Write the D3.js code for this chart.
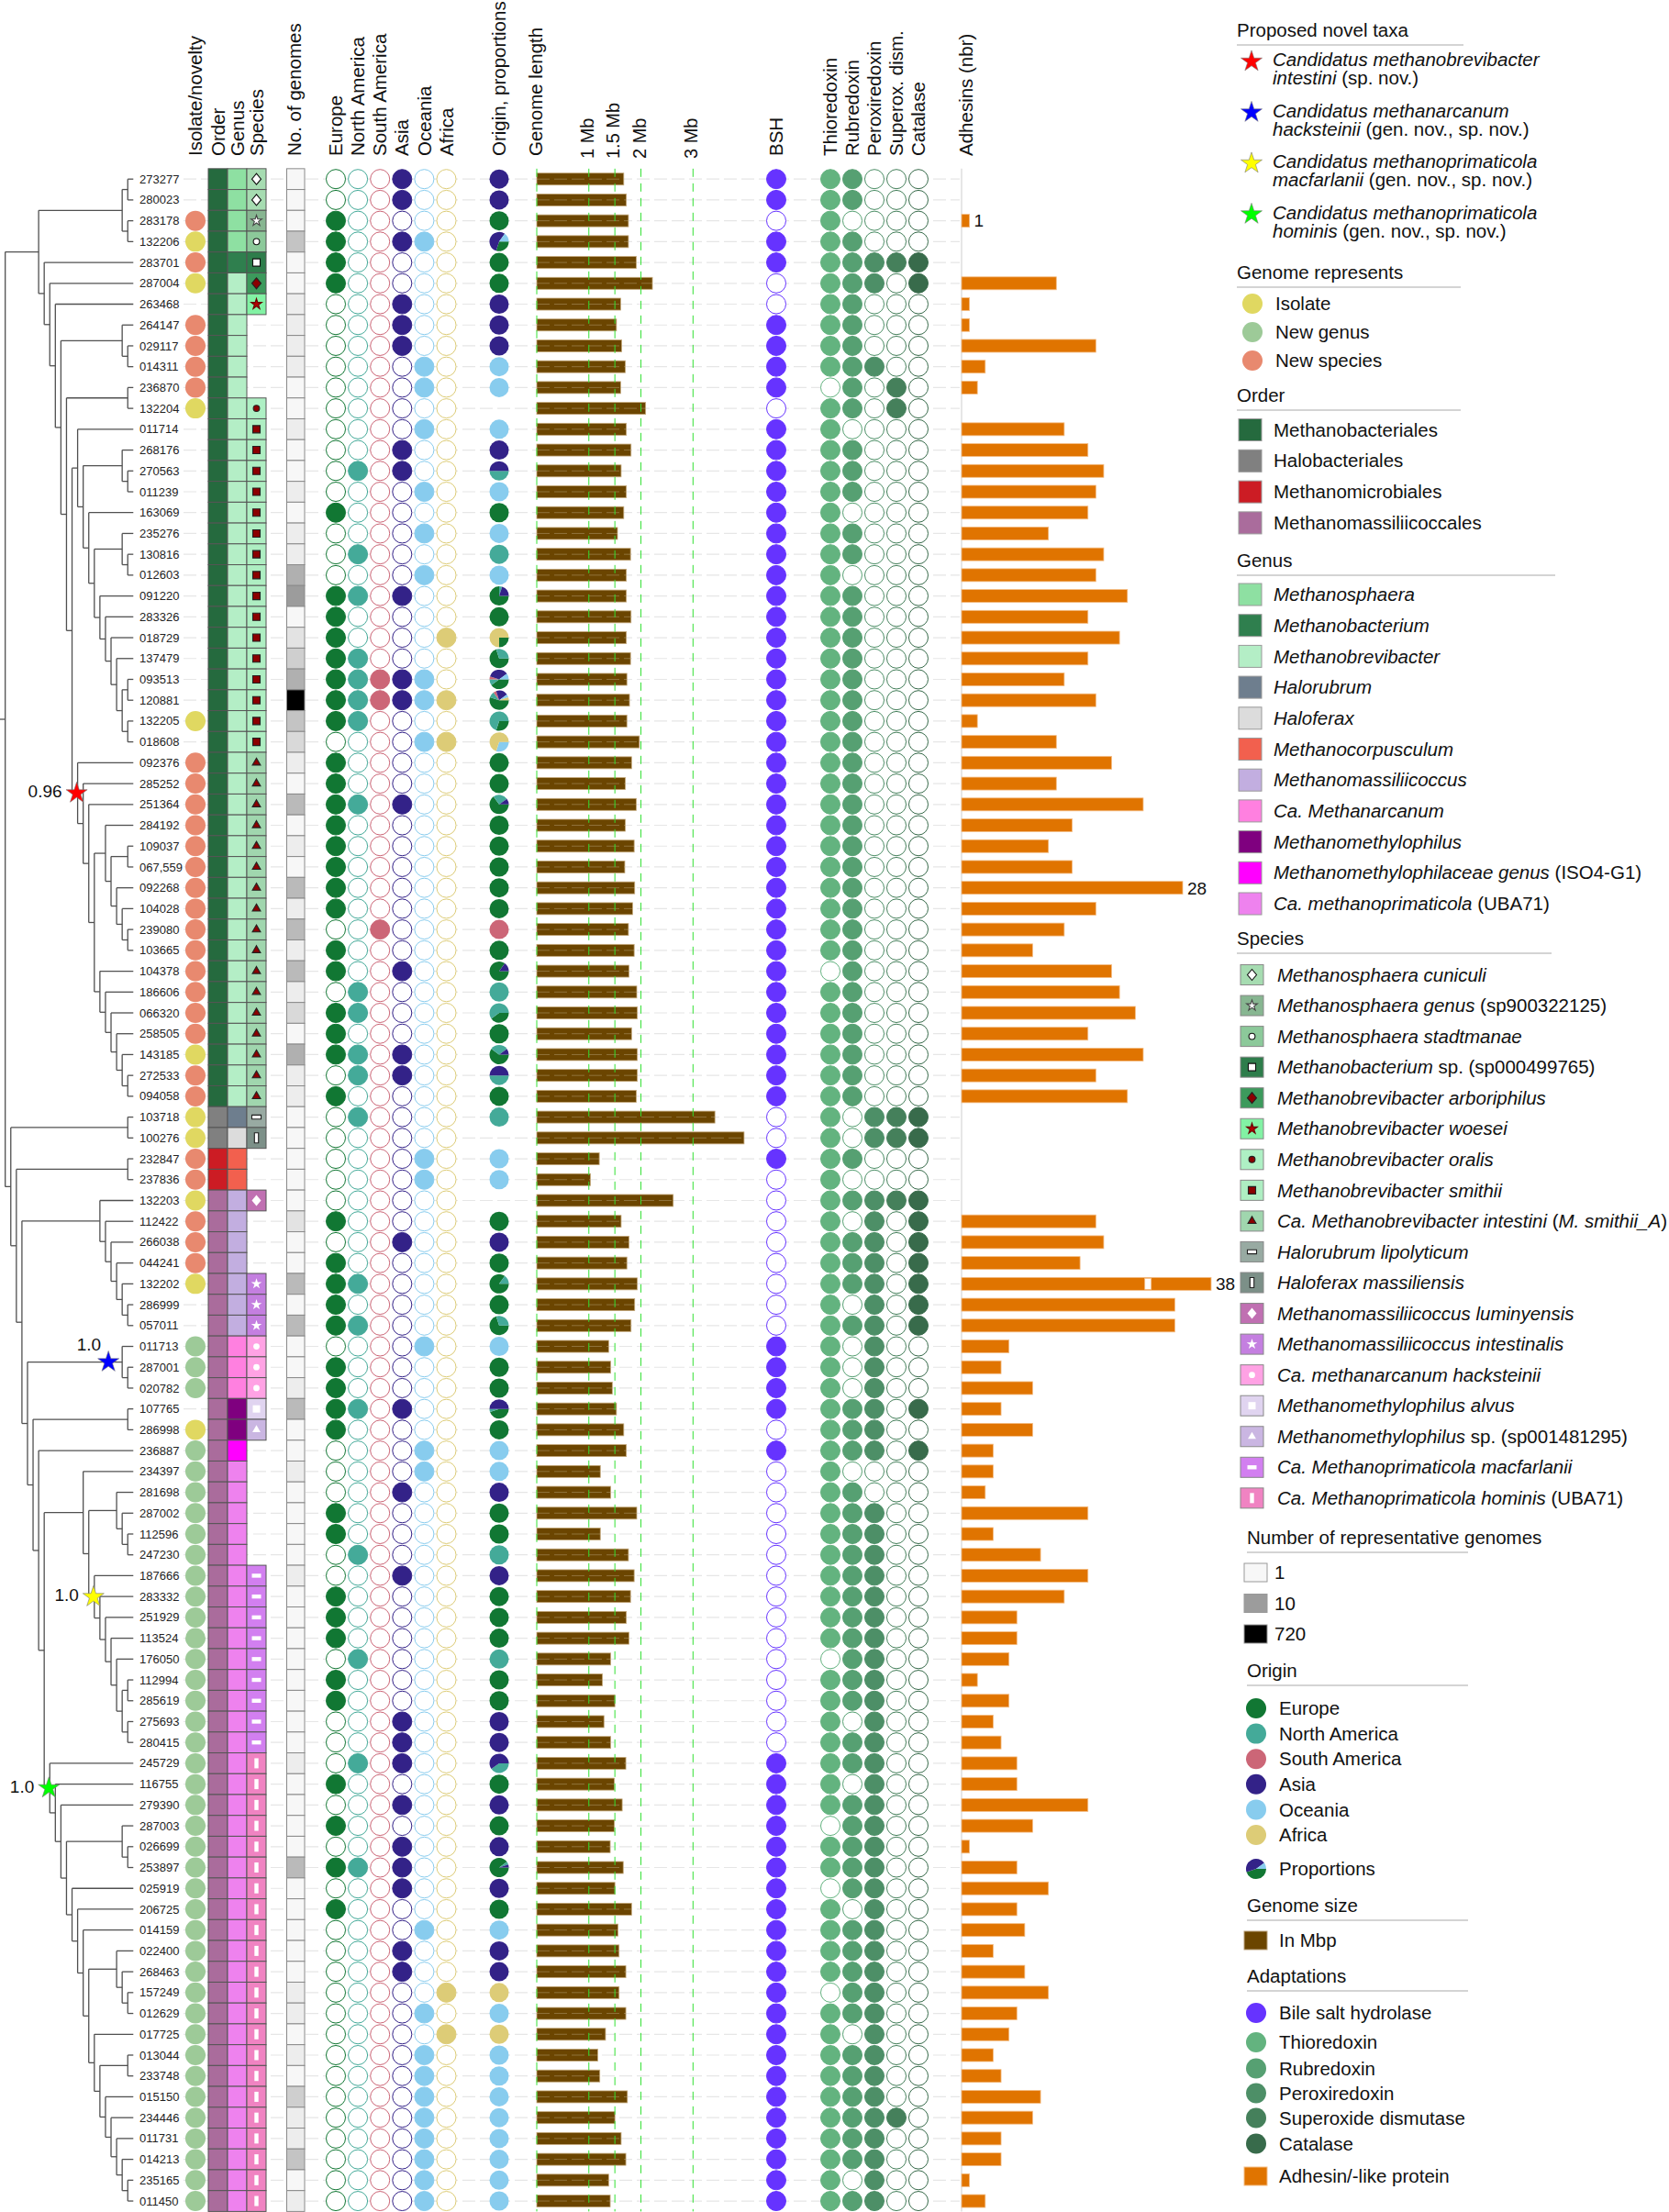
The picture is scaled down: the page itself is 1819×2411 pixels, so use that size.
<!DOCTYPE html>
<html>
<head>
<meta charset="utf-8">
<script src="https://cdn.jsdelivr.net/npm/d3@7/dist/d3.min.js"></script>
<style>
  body { margin: 0; background: #fff; }
  svg { display: block; font-family: "Liberation Sans", Arial, Helvetica, sans-serif; }
  text { white-space: pre; }
</style>
</head>
<body>
<div id="chart"></div>
<script>
// ---------------- data ----------------
const genomeIds = ["273277","280023","283178","132206","283701","287004","263468","264147","029117","014311",
  "236870","132204","011714","268176","270563","011239","163069","235276","130816","012603",
  "091220","283326","018729","137479","093513","120881","132205","018608","092376","285252",
  "251364","284192","109037","067,559","092268","104028","239080","103665","104378","186606",
  "066320","258505","143185","272533","094058","103718","100276","232847","237836","132203",
  "112422","266038","044241","132202","286999","057011","011713","287001","020782","107765",
  "286998","236887","234397","281698","287002","112596","247230","187666","283332","251929",
  "113524","176050","112994","285619","275693","280415","245729","116755","279390","287003",
  "026699","253897","025919","206725","014159","022400","268463","157249","012629","017725",
  "013044","233748","015150","234446","011731","014213","235165","011450"];

// tree topology, leaves are row indices
const cSmithii = [20,[21,[22,[23,[[24,25],[26,27]]]]]];
const cSmithiiB = [12,[[13,[14,15]],[16,[[17,[18,19]],cSmithii]]]];
const cIntestini = [28,[29,[30,[[31,[[32,33],[34,[35,[36,37]]]]],[38,[39,[40,[41,[42,[43,44]]]]]]]]]];
const n203 = [[7,[8,9]],[[10,11],[cSmithiiB,cIntestini]]];
const cladeA = [[[0,1],[2,3]],[4,[5,[6,n203]]]];
const h327 = [[90,91],[92,[93,[94,[95,[96,97]]]]]];
const h291 = [[85,[86,[87,88]]],[89,h327]];
const cHominis = [76,[77,[78,[[79,[80,81]],[82,[83,[84,h291]]]]]]];
const cMacfarlanii = [67,[68,[69,[70,[71,[[72,73],[74,75]]]]]]];
const n147 = [[62,[[63,[64,[65,66]]],cMacfarlanii]],cHominis];
const cMassilii = [49,[50,[51,[52,[53,[54,55]]]]]];
const n92 = [[56,[57,58]],[[59,60],[61,n147]]];
const cladeB = [[45,46],[[47,48],[cMassilii,n92]]];
const treeTopology = [cladeA, cladeB];

// novel taxa clades (first / last genome) and support values
const starFirst = ["092376","011713","187666","245729"];
const starLast = ["094058","020782","280415","011450"];
const starSupport = ["0.96","1.0","1.0","1.0"];

// 0 none, 1 isolate, 2 new genus, 3 new species
const novelty = [0,0,3,1,3,1,0,3,3,3, 3,1,0,0,0,0,0,0,0,0, 0,0,0,0,0,0,1,0,3,3, 3,3,3,3,3,3,3,3,3,3,
  3,3,1,3,3,1,1,3,3,1, 3,3,3,1,0,0,2,2,2,0, 1,2,2,2,2,2,2,2,2,2, 2,2,2,2,2,2,2,2,2,2,
  2,2,2,2,2,2,2,2,2,2, 2,2,2,2,2,2,2,2];
const noveltyNames = ["Isolate","New genus","New species"];

const orderNames = ["Methanobacteriales","Halobacteriales","Methanomicrobiales","Methanomassiliicoccales"];
const rowOrder = [0,0,0,0,0,0,0,0,0,0, 0,0,0,0,0,0,0,0,0,0, 0,0,0,0,0,0,0,0,0,0, 0,0,0,0,0,0,0,0,0,0,
  0,0,0,0,0,1,1,2,2,3, 3,3,3,3,3,3,3,3,3,3, 3,3,3,3,3,3,3,3,3,3, 3,3,3,3,3,3,3,3,3,3,
  3,3,3,3,3,3,3,3,3,3, 3,3,3,3,3,3,3,3];

const genusLabels = [[["Methanosphaera",1]],[["Methanobacterium",1]],[["Methanobrevibacter",1]],[["Halorubrum",1]],
  [["Haloferax",1]],[["Methanocorpusculum",1]],[["Methanomassiliicoccus",1]],[["Ca. Methanarcanum",1]],
  [["Methanomethylophilus",1]],[["Methanomethylophilaceae genus",1],[" (ISO4-G1)",0]],
  [["Ca. methanoprimaticola",1],[" (UBA71)",0]]];
const rowGenus = [0,0,0,0,1,2,2,2,2,2, 2,2,2,2,2,2,2,2,2,2, 2,2,2,2,2,2,2,2,2,2, 2,2,2,2,2,2,2,2,2,2,
  2,2,2,2,2,3,4,5,5,6, 6,6,6,6,6,6,7,7,7,8, 8,9,10,10,10,10,10,10,10,10, 10,10,10,10,10,10,10,10,10,10,
  10,10,10,10,10,10,10,10,10,10, 10,10,10,10,10,10,10,10];

const speciesLabels = [[["Methanosphaera cuniculi",1]],[["Methanosphaera genus",1],[" (sp900322125)",0]],
  [["Methanosphaera stadtmanae",1]],[["Methanobacterium",1],[" sp. (sp000499765)",0]],
  [["Methanobrevibacter arboriphilus",1]],[["Methanobrevibacter woesei",1]],[["Methanobrevibacter oralis",1]],
  [["Methanobrevibacter smithii",1]],[["Ca. Methanobrevibacter intestini",1],[" (",0],["M. smithii_A",1],[")",0]],
  [["Halorubrum lipolyticum",1]],[["Haloferax massiliensis",1]],[["Methanomassiliicoccus luminyensis",1]],
  [["Methanomassiliicoccus intestinalis",1]],[["Ca. methanarcanum hacksteinii",1]],[["Methanomethylophilus alvus",1]],
  [["Methanomethylophilus",1],[" sp. (sp001481295)",0]],[["Ca. Methanoprimaticola macfarlanii",1]],
  [["Ca. Methanoprimaticola hominis",1],[" (UBA71)",0]]];
const rowSpecies = [0,0,1,2,3,4,5,-1,-1,-1, -1,6,7,7,7,7,7,7,7,7, 7,7,7,7,7,7,7,7,8,8, 8,8,8,8,8,8,8,8,8,8,
  8,8,8,8,8,9,10,-1,-1,11, -1,-1,-1,12,12,12,13,13,13,14, 15,-1,-1,-1,-1,-1,-1,16,16,16,
  16,16,16,16,16,16,17,17,17,17, 17,17,17,17,17,17,17,17,17,17, 17,17,17,17,17,17,17,17];

// number of representative genomes
const numGenomes = [1,1,1,6,1,1,2,2,2,2, 1,1,2,1,1,2,1,2,2,8, 12,1,3,5,8,720,6,4,2,1, 7,1,2,1,7,2,7,2,7,2,
  4,1,8,2,2,1,1,1,1,1, 3,1,1,7,1,7,1,1,2,7, 1,1,2,1,1,1,1,2,1,1, 1,1,1,1,1,1,2,1,1,1,
  1,7,1,1,1,1,1,2,2,1, 2,1,5,2,2,6,1,2];
const genomeLegendValues = [1, 10, 720];

// origin: Europe, North America, South America, Asia, Oceania, Africa
const continentNames = ["Europe","North America","South America","Asia","Oceania","Africa"];
const continentPresence = ["000100","000100","100000","100110","100000","100000","000100","000100","000100","000010",
  "000010","000000","000010","000100","010100","000010","100000","000010","010000","000010",
  "110100","100000","100001","110000","111110","111111","110000","000011","100000","100000",
  "110100","100000","100000","100000","100000","100000","001000","100000","100100","010000",
  "110000","100000","110100","010100","100000","010000","000000","000010","000010","000000",
  "100000","000100","100000","110000","100000","110000","000010","100000","100000","110100",
  "100000","000010","000010","000100","100000","100000","010000","000100","100000","100000",
  "100000","010000","100000","100000","000100","000100","010100","100000","000100","100000",
  "000100","110100","000100","100000","000010","000100","000100","000001","000010","000001",
  "000010","000010","000010","000010","000010","000010","000010","000010"];
const mixedOriginIds = ["132206","270563","091220","018729","137479","093513","120881","132205","018608","251364",
  "104378","066320","143185","272533","132202","057011","107765","245729","253897"];
const mixedOriginShares = [[.3,0,0,.55,.15,0],[0,.5,0,.5,0,0],[.75,.05,0,.2,0,0],[.25,0,0,0,0,.75],[.7,.3,0,0,0,0],
  [.4,.1,.05,.35,.1,0],[.55,.1,.05,.2,.05,.05],[.3,.7,0,0,0,0],[0,0,0,0,.3,.7],[.65,.25,0,.1,0,0],
  [.85,0,0,.15,0,0],[.4,.6,0,0,0,0],[.6,.3,0,.1,0,0],[0,.5,0,.5,0,0],[.85,.15,0,0,0,0],
  [.7,.3,0,0,0,0],[.45,.05,0,.5,0,0],[0,.4,0,.6,0,0],[.9,.05,0,.05,0,0]];
const legendProportion = [.45,0,0,.45,.1,0];

// genome length in Mb
const genomeMb = [1.67,1.72,1.76,1.76,1.91,2.22,1.61,1.53,1.63,1.70, 1.61,2.09,1.72,1.81,1.62,1.72,1.67,1.55,1.80,1.72,
  1.72,1.81,1.72,1.80,1.73,1.78,1.73,1.97,1.82,1.70, 1.91,1.70,1.87,1.69,1.88,1.84,1.76,1.87,1.77,1.92,
  1.93,1.82,1.93,1.93,1.91,3.42,3.98,1.20,1.03,2.62, 1.62,1.77,1.73,1.93,1.88,1.81,1.38,1.42,1.45,1.53,
  1.67,1.72,1.22,1.42,1.92,1.22,1.76,1.87,1.80,1.72, 1.77,1.42,1.26,1.50,1.29,1.42,1.71,1.49,1.64,1.49,
  1.41,1.66,1.50,1.82,1.56,1.58,1.71,1.58,1.71,1.32, 1.17,1.21,1.74,1.50,1.62,1.71,1.38,1.41];
const genomeTicks = [1, 1.5, 2, 3];

// bile salt hydrolase and oxidative stress genes (Thio, Rub, Perox, SOD, Cat)
const bsh = [1,1,0,1,1,0,0,1,1,1, 1,0,1,1,1,1,1,1,1,1, 1,1,1,1,1,1,1,1,1,1, 1,1,1,1,1,1,1,1,1,1,
  1,1,1,1,1,0,0,1,0,0, 0,0,0,0,0,0,1,1,1,1, 0,1,0,0,0,0,0,0,0,0, 0,0,0,0,0,0,1,1,1,1,
  1,1,1,1,1,1,1,1,1,1, 1,1,1,1,1,1,1,1];
const adaptNames = ["Thioredoxin","Rubredoxin","Peroxiredoxin","Superox. dism.","Catalase"];
const adaptPresence = ["11000","11000","10000","11000","11111","11101","11000","11000","11000","11100",
  "01010","11010","10000","11000","11000","11000","10000","11000","11000","10000",
  "11000","11000","11000","11000","11000","11000","11000","11000","11000","11000",
  "11000","11000","11000","11000","11000","11000","11000","11000","01000","11000",
  "11000","11000","11000","11000","11000","10111","10111","11000","10000","11111",
  "10101","11101","11101","11101","10101","11101","10100","10100","10100","11101",
  "11100","11101","10000","11000","11100","11100","11100","11100","11100","11100",
  "11100","01100","11100","11100","10100","11100","11100","10100","11100","01100",
  "11100","11100","01100","10100","11100","11100","11100","01100","11100","10100",
  "11100","11100","11100","11110","11100","11100","10100","11100"];

// number of adhesins
const adhesins = [0,0,1,0,0,12,1,1,17,3, 2,0,13,16,18,17,16,11,18,17, 21,16,20,16,13,17,2,12,19,12,
  23,14,11,14,28,17,13,9,19,20, 22,16,23,17,21,0,0,0,0,0, 17,18,15,38,27,27,6,5,9,5,
  9,4,4,3,16,4,10,16,13,7, 7,6,2,6,4,5,7,7,16,9, 1,7,11,7,8,4,8,11,7,6, 4,5,10,9,5,5,1,3];
const adhesinLabelled = ["283178","092268","132202"];

// ---------------- styles ----------------
const noveltyColor = ["none","#e0d861","#9dca98","#e8896f"];
const orderColor = ["#256a3e","#808080","#cc1c24","#aa6c9c"];
const genusColor = ["#8ee0a2","#2f7f4e","#b4eec6","#6e7e8e","#dcdcdc","#f2604e","#c2aee0","#ff80e0","#7f007f","#ff00ff","#ee82ee"];
const speciesColor = ["#a6dcb1","#87b691","#8cc99a","#2e7d4b","#3c9a5c","#82f2a4","#aef0c4","#aeeec2","#a0d6ae",
  "#98aaa2","#7c9088","#c070b2","#c47fe0","#ffa2e4","#e0d4f0","#cab6e2","#d27ff0","#f083c2"];
const speciesShape = ["diamond","star","circle","square","diamond","star","circle","square","triangle",
  "hbar","vbar","diamond","star","circle","square","triangle","hbar","vbar"];
const speciesMarkFill = ["#fff","#fff","#fff","#fff","#8b0000","#b30000","#8b0000","#8b0000","#8b0000",
  "#fff","#fff","#fff","#fff","#fff","#fff","#fff","#fff","#fff"];
const speciesMarkStroke = ["#111","#444","#111","#111","#222","#600","#222","#222","#222",
  "#222","#222","none","none","none","none","none","none","none"];
const continentColor = ["#117733","#44aa99","#cc6677","#332288","#88ccee","#ddcc77"];
const adaptColor = ["#63b37f","#56a072","#4d8f67","#45805b","#386b4b"];
const bshColor = "#6633ff", genomeColor = "#6b4500", adhesinColor = "#e07400";
const starColor = ["#ff0000","#0000ff","#ffff00","#00ff00"];

const W = 1819, H = 2411;
let svg = d3.select("#chart").append("svg").attr("width", W).attr("height", H);
svg.append("rect").attr("width", W).attr("height", H).attr("fill", "#fff");

const rows = d3.range(genomeIds.length);
let y = d3.scaleBand().domain(genomeIds).range([183.84, 2410.4]);
const rowY = i => y(genomeIds[i]) + y.bandwidth() / 2;
const yTop = y.range()[0], yBottom = y.range()[1];

let xCont = d3.scalePoint().domain(continentNames).range([366, 486.5]);
let xAdapt = d3.scalePoint().domain(adaptNames).range([905, 1001]);
let xG = d3.scaleLinear().domain([0, 3]).range([585, 755.3]);
let xA = d3.scaleLinear().domain([0, 28]).range([1048, 1289]);
let genomesShade = d3.scaleLinear().domain([1, 10, 720]).range(["#f7f7f7", "#9c9c9c", "#000000"]);

const col = { iso: 213, order: 227, genus: 248, species: 269, cell: 21, genomes: 312.5, genomesW: 19.5, pie: 544, bsh: 846 };
const R = 10.5;

// ---------------- row guide lines ----------------
svg.append("g").selectAll("line").data(rows).join("line")
  .attr("x1", 200).attr("x2", 1046)
  .attr("y1", rowY).attr("y2", rowY)
  .attr("stroke", "#e6e6e6").attr("stroke-width", 1.2)
  .attr("stroke-dasharray", "14,5");

// ---------------- tree ----------------
let root = d3.hierarchy(treeTopology, d => Array.isArray(d) ? d : null);
const leafX = 145.3, stepX = 6.07;
root.eachAfter(n => {
  n.px = leafX - n.height * stepX;
  n.py = n.children ? (n.children[0].py + n.children[n.children.length - 1].py) / 2 : rowY(n.data);
});
let treeG = svg.append("g").attr("stroke", "#505050").attr("stroke-width", 1.3).attr("fill", "none");
treeG.selectAll(".v").data(root.descendants().filter(n => n.children)).join("line")
  .attr("x1", n => n.px).attr("x2", n => n.px)
  .attr("y1", n => n.children[0].py).attr("y2", n => n.children[n.children.length - 1].py);
treeG.selectAll(".h").data(root.descendants().filter(n => n.parent)).join("line")
  .attr("x1", n => n.parent.px).attr("x2", n => n.px)
  .attr("y1", n => n.py).attr("y2", n => n.py);
treeG.append("line").attr("x1", 0).attr("x2", root.px).attr("y1", root.py).attr("y2", root.py);

// stars on novel clades
let starPath = d3.symbol(d3.symbolStar, 165)();
starFirst.forEach((f, k) => {
  let a = genomeIds.indexOf(f), b = genomeIds.indexOf(starLast[k]);
  let node = root.descendants().find(n => n.children &&
    d3.min(n.leaves(), l => l.data) === a && d3.max(n.leaves(), l => l.data) === b);
  let sx = k === 1 ? node.px - 15 : node.px - 1;
  svg.append("path").attr("d", starPath).attr("transform", `translate(${sx},${node.py})`)
    .attr("fill", starColor[k]).attr("stroke", "#777").attr("stroke-width", 0.6);
  let lab = svg.append("text").style("font-size", "19px").attr("fill", "#111")
    .attr("text-anchor", "end").attr("dy", "0.35em").text(starSupport[k]);
  if (k === 1) lab.attr("x", sx - 8).attr("y", node.py - 19);
  else lab.attr("x", sx - 16).attr("y", node.py - 2);
});

// leaf labels
svg.append("g").selectAll("text").data(rows).join("text")
  .attr("x", 152).attr("y", rowY).attr("dy", "0.35em")
  .style("font-size", "13px").attr("fill", "#222")
  .text(i => genomeIds[i]);

// ---------------- isolate / taxonomy columns ----------------
svg.append("g").selectAll("circle").data(rows.filter(i => novelty[i] > 0)).join("circle")
  .attr("cx", col.iso).attr("cy", rowY).attr("r", 11)
  .attr("fill", i => noveltyColor[novelty[i]]);

let cellG = svg.append("g").attr("stroke", "#555").attr("stroke-width", 1);
cellG.selectAll(".ord").data(rows).join("rect")
  .attr("x", col.order).attr("y", i => y(genomeIds[i])).attr("width", col.cell).attr("height", y.bandwidth())
  .attr("fill", i => orderColor[rowOrder[i]]);
cellG.append("g").selectAll("rect").data(rows).join("rect")
  .attr("x", col.genus).attr("y", i => y(genomeIds[i])).attr("width", col.cell).attr("height", y.bandwidth())
  .attr("fill", i => genusColor[rowGenus[i]]);

function markerPath(shape) {
  if (shape === "diamond") return "M0,-6L5,0L0,6L-5,0Z";
  if (shape === "star") return d3.symbol(d3.symbolStar, 42)();
  if (shape === "circle") return d3.symbol(d3.symbolCircle, 36)();
  if (shape === "square") return "M-4,-4H4V4H-4Z";
  if (shape === "triangle") return d3.symbol(d3.symbolTriangle, 34)();
  if (shape === "hbar") return "M-5,-2.2H5V2.2H-5Z";
  return "M-2.2,-5.5H2.2V5.5H-2.2Z";
}
let spRows = rows.filter(i => rowSpecies[i] >= 0);
cellG.append("g").selectAll("rect").data(spRows).join("rect")
  .attr("x", col.species).attr("y", i => y(genomeIds[i])).attr("width", col.cell).attr("height", y.bandwidth())
  .attr("fill", i => speciesColor[rowSpecies[i]]);
svg.append("g").selectAll("path").data(spRows).join("path")
  .attr("d", i => markerPath(speciesShape[rowSpecies[i]]))
  .attr("transform", i => `translate(${col.species + col.cell / 2},${rowY(i)})`)
  .attr("fill", i => speciesMarkFill[rowSpecies[i]])
  .attr("stroke", i => speciesMarkStroke[rowSpecies[i]]).attr("stroke-width", 1.1);

// number of genomes
svg.append("g").selectAll("rect").data(rows).join("rect")
  .attr("x", col.genomes).attr("y", i => y(genomeIds[i])).attr("width", col.genomesW).attr("height", y.bandwidth())
  .attr("fill", i => genomesShade(numGenomes[i])).attr("stroke", "#8a8a8a").attr("stroke-width", 1);

// ---------------- origin ----------------
let contG = svg.append("g");
continentNames.forEach((c, k) => {
  contG.append("g").selectAll("circle").data(rows).join("circle")
    .attr("cx", xCont(c)).attr("cy", rowY).attr("r", R)
    .attr("fill", i => continentPresence[i][k] === "1" ? continentColor[k] : "#fff")
    .attr("stroke", continentColor[k]).attr("stroke-width", 1);
});

let pie = d3.pie().sort(null).value(d => d).startAngle(Math.PI / 2).endAngle(Math.PI * 2.5);
let arc = d3.arc().innerRadius(0).outerRadius(R);
function sharesOf(i) {
  let m = mixedOriginIds.indexOf(genomeIds[i]);
  if (m >= 0) return mixedOriginShares[m];
  return continentPresence[i].split("").map(Number);
}
rows.filter(i => continentPresence[i] !== "000000").forEach(i => {
  svg.append("g").attr("transform", `translate(${col.pie},${rowY(i)})`)
    .selectAll("path").data(pie(sharesOf(i))).join("path")
    .attr("d", arc).attr("fill", (d, k) => continentColor[k]);
});

// ---------------- genome length ----------------
svg.append("g").selectAll("rect").data(rows).join("rect")
  .attr("x", xG(0)).attr("y", i => rowY(i) - 6.5)
  .attr("width", i => xG(genomeMb[i]) - xG(0)).attr("height", 13)
  .attr("fill", genomeColor).attr("stroke", "#c4a87a").attr("stroke-width", 0.8);
svg.append("g").selectAll("line").data(rows).join("line")
  .attr("x1", xG(0)).attr("x2", i => xG(genomeMb[i]))
  .attr("y1", rowY).attr("y2", rowY)
  .attr("stroke", "#d8c8a8").attr("stroke-opacity", 0.35).attr("stroke-dasharray", "14,5");
svg.append("g").selectAll("line").data([0].concat(genomeTicks)).join("line")
  .attr("x1", d => xG(d)).attr("x2", d => xG(d)).attr("y1", yTop).attr("y2", yBottom)
  .attr("stroke", "#33e033").attr("stroke-width", 1).attr("stroke-dasharray", "9,7");
svg.append("g").selectAll("text").data(genomeTicks).join("text")
  .attr("transform", d => `translate(${xG(d) - 2},173) rotate(-90)`)
  .attr("dy", "0.35em").style("font-size", "20px").attr("fill", "#111")
  .text(d => d + " Mb");

// ---------------- adaptations ----------------
svg.append("g").selectAll("circle").data(rows).join("circle")
  .attr("cx", col.bsh).attr("cy", rowY).attr("r", R)
  .attr("fill", i => bsh[i] ? bshColor : "#fff").attr("stroke", bshColor).attr("stroke-width", 1);
adaptNames.forEach((a, k) => {
  svg.append("g").selectAll("circle").data(rows).join("circle")
    .attr("cx", xAdapt(a)).attr("cy", rowY).attr("r", R)
    .attr("fill", i => adaptPresence[i][k] === "1" ? adaptColor[k] : "#fff")
    .attr("stroke", adaptColor[k]).attr("stroke-width", 1);
});

// ---------------- adhesins ----------------
svg.append("line").attr("x1", xA(0)).attr("x2", xA(0)).attr("y1", yTop).attr("y2", yBottom)
  .attr("stroke", "#dedede").attr("stroke-width", 1.5);
const breakAt = 30;
let adRows = rows.filter(i => adhesins[i] > 0);
svg.append("g").selectAll("rect").data(adRows).join("rect")
  .attr("x", xA(0)).attr("y", i => rowY(i) - 7)
  .attr("width", i => xA(adhesins[i] > breakAt ? 31.6 : adhesins[i]) - xA(0))
  .attr("height", 14)
  .attr("fill", adhesinColor).attr("stroke", "#f4bd85").attr("stroke-width", 0.8);
svg.append("g").selectAll("rect").data(adRows.filter(i => adhesins[i] > breakAt)).join("rect")
  .attr("x", xA(23.2)).attr("y", i => rowY(i) - 6).attr("width", 7).attr("height", 12)
  .attr("fill", "#fff").attr("stroke", "#f4bd85").attr("stroke-width", 0.8);
svg.append("g").selectAll("text").data(adRows.filter(i => adhesinLabelled.includes(genomeIds[i]))).join("text")
  .attr("x", i => xA(adhesins[i] > breakAt ? 31.6 : adhesins[i]) + 5)
  .attr("y", rowY).attr("dy", "0.36em")
  .style("font-size", "19px").attr("fill", "#111")
  .text(i => adhesins[i]);

// ---------------- column headers ----------------
const headers = [["Isolate/novelty", col.iso], ["Order", col.order + 10.5], ["Genus", col.genus + 10.5],
  ["Species", col.species + 10.5], ["No. of genomes", 321]]
  .concat(continentNames.map(c => [c, xCont(c)]))
  .concat([["Origin, proportions", col.pie], ["Genome length", xG(0) - 1], ["BSH", col.bsh]])
  .concat(adaptNames.map(a => [a, xAdapt(a)]))
  .concat([["Adhesins (nbr)", xA(0) + 5]]);
svg.append("g").selectAll("text").data(headers).join("text")
  .attr("transform", d => `translate(${d[1]},170) rotate(-90)`)
  .attr("dy", "0.35em").style("font-size", "20.5px").attr("fill", "#111")
  .text(d => d[0]);

// ---------------- legend ----------------
let lg = svg.append("g").style("font-size", "20.5px").attr("fill", "#111");
function legendTitle(txt, x, yy, x2) {
  lg.append("text").attr("x", x).attr("y", yy).attr("dy", "0.35em").text(txt);
  lg.append("line").attr("x1", x).attr("x2", x2).attr("y1", yy + 16).attr("y2", yy + 16)
    .attr("stroke", "#aaa").attr("stroke-width", 1.2);
}
function segText(x, yy, segs) {
  let t = lg.append("text").attr("x", x).attr("y", yy).attr("dy", "0.35em");
  segs.forEach(s => t.append("tspan").style("font-style", s[1] ? "italic" : "normal").text(s[0]));
}

const novelLine1 = ["Candidatus methanobrevibacter","Candidatus methanarcanum","Candidatus methanoprimaticola","Candidatus methanoprimaticola"];
const novelEpithet = ["intestini","hacksteinii","macfarlanii","hominis"];
const novelRank = [" (sp. nov.)"," (gen. nov., sp. nov.)"," (gen. nov., sp. nov.)"," (gen. nov., sp. nov.)"];
legendTitle("Proposed novel taxa", 1348, 33, 1595);
novelLine1.forEach((t, k) => {
  let yy = 67 + k * 55.5;
  lg.append("path").attr("d", starPath).attr("transform", `translate(1364,${yy})`)
    .attr("fill", starColor[k]).attr("stroke", "#777").attr("stroke-width", 0.6);
  segText(1387, yy - 2, [[t, 1]]);
  segText(1387, yy + 18, [[novelEpithet[k], 1], [novelRank[k], 0]]);
});

legendTitle("Genome represents", 1348, 297, 1592);
noveltyNames.forEach((t, k) => {
  let yy = 331 + k * 31;
  lg.append("circle").attr("cx", 1365).attr("cy", yy).attr("r", 11).attr("fill", noveltyColor[k + 1]);
  segText(1390, yy, [[t, 0]]);
});

legendTitle("Order", 1348, 431, 1592);
orderNames.forEach((t, k) => {
  let yy = 468.5 + k * 33.8;
  lg.append("rect").attr("x", 1350).attr("y", yy - 12).attr("width", 25).attr("height", 24)
    .attr("fill", orderColor[k]).attr("stroke", "#999");
  segText(1388, yy, [[t, 0]]);
});

legendTitle("Genus", 1348, 611, 1695);
genusLabels.forEach((segs, k) => {
  let yy = 648 + k * 33.7;
  lg.append("rect").attr("x", 1350).attr("y", yy - 12).attr("width", 25).attr("height", 24)
    .attr("fill", genusColor[k]).attr("stroke", "#999");
  segText(1388, yy, segs);
});

legendTitle("Species", 1348, 1023, 1691);
speciesLabels.forEach((segs, k) => {
  let yy = 1062.5 + k * 33.55;
  lg.append("rect").attr("x", 1352).attr("y", yy - 11).attr("width", 25).attr("height", 22)
    .attr("fill", speciesColor[k]).attr("stroke", "#888");
  lg.append("path").attr("d", markerPath(speciesShape[k])).attr("transform", `translate(1364.5,${yy})`)
    .attr("fill", speciesMarkFill[k]).attr("stroke", speciesMarkStroke[k]).attr("stroke-width", 1.1);
  segText(1392, yy, segs);
});

legendTitle("Number of representative genomes", 1359, 1676, 1600);
genomeLegendValues.forEach((v, k) => {
  let yy = 1714 + k * 33.5;
  lg.append("rect").attr("x", 1356).attr("y", yy - 10).attr("width", 25).attr("height", 20)
    .attr("fill", genomesShade(v)).attr("stroke", "#999");
  segText(1389, yy, [[String(v), 0]]);
});

legendTitle("Origin", 1359, 1821, 1600);
continentNames.forEach((c, k) => {
  let yy = 1862 + k * 27.6;
  lg.append("circle").attr("cx", 1369).attr("cy", yy).attr("r", 11).attr("fill", continentColor[k]);
  segText(1394, yy, [[c, 0]]);
});
lg.append("g").attr("transform", "translate(1369,2037)")
  .selectAll("path").data(pie(legendProportion)).join("path")
  .attr("d", d3.arc().innerRadius(0).outerRadius(11)).attr("fill", (d, k) => continentColor[k]);
segText(1394, 2037, [["Proportions", 0]]);

legendTitle("Genome size", 1359, 2077, 1600);
lg.append("rect").attr("x", 1356).attr("y", 2105).attr("width", 25).attr("height", 20).attr("fill", genomeColor).attr("stroke", "#b9a07a");
segText(1394, 2115, [["In Mbp", 0]]);

legendTitle("Adaptations", 1359, 2154, 1600);
const adaptLegend = ["Bile salt hydrolase","Thioredoxin","Rubredoxin","Peroxiredoxin","Superoxide dismutase","Catalase"];
const adaptLegendY = [2194, 2226, 2254.5, 2281.5, 2308.5, 2336.5];
adaptLegend.forEach((t, k) => {
  lg.append("circle").attr("cx", 1369).attr("cy", adaptLegendY[k]).attr("r", 11)
    .attr("fill", k === 0 ? bshColor : adaptColor[k - 1]);
  segText(1394, adaptLegendY[k], [[t, 0]]);
});
lg.append("rect").attr("x", 1356).attr("y", 2362).attr("width", 25).attr("height", 20).attr("fill", adhesinColor).attr("stroke", "#f4bd85");
segText(1394, 2372, [["Adhesin/-like protein", 0]]);
</script>
</body>
</html>
